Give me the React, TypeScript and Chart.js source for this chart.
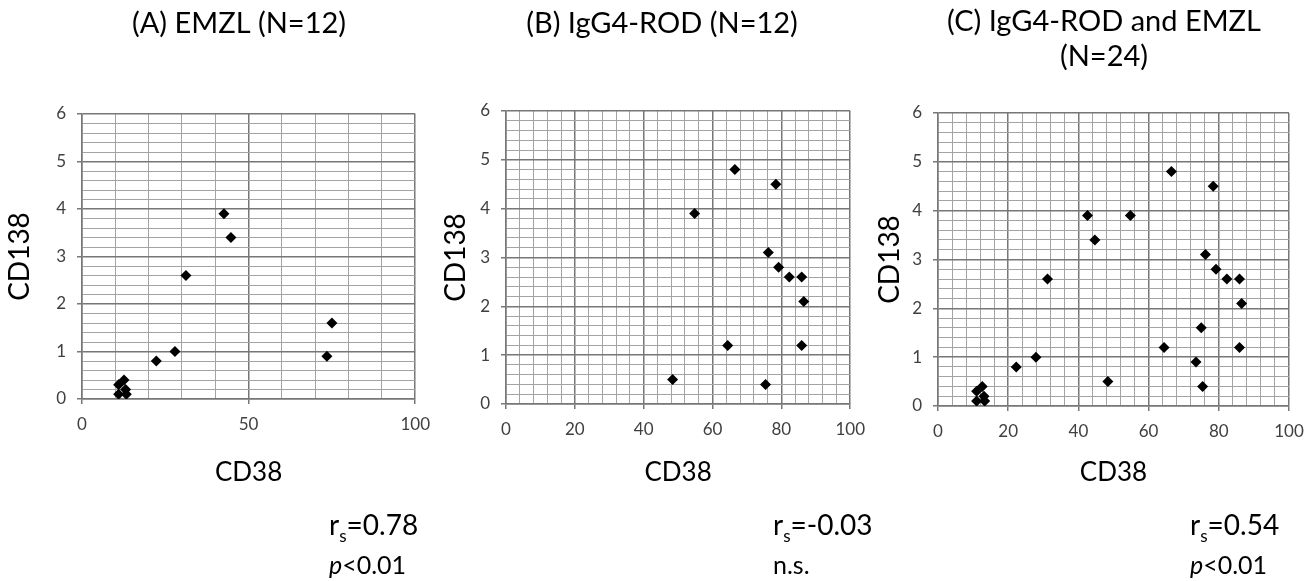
import React, { useEffect, useRef } from 'react';
import { Chart, registerables } from 'chart.js';

Chart.register(...registerables);

// ---- data ----
const emzlCD38 = [42.6, 44.7, 31.2, 27.9, 22.3, 75.0, 73.5, 11.0, 12.6, 11.0, 13.1, 13.3];
const emzlCD138 = [3.9, 3.4, 2.6, 1.0, 0.8, 1.6, 0.9, 0.3, 0.4, 0.1, 0.2, 0.1];
const igg4CD38 = [66.5, 78.4, 54.8, 76.2, 79.2, 82.3, 85.9, 86.5, 64.4, 85.9, 48.4, 75.4];
const igg4CD138 = [4.8, 4.5, 3.9, 3.1, 2.8, 2.6, 2.6, 2.1, 1.2, 1.2, 0.5, 0.4];

const panelTitles: string[][] = [
  ['(A) EMZL (N=12)'],
  ['(B) IgG4-ROD (N=12)'],
  ['(C) IgG4-ROD and EMZL', '(N=24)'],
];
const rsValues = ['=0.78', '=-0.03', '=0.54'];
const pValues = ['<0.01', 'n.s.', '<0.01'];
const xAxisTitle = 'CD38';
const yAxisTitle = 'CD138';

const toPoints = (xs: number[], ys: number[]) => xs.map((x, i) => ({ x, y: ys[i] }));

const panelData = [
  toPoints(emzlCD38, emzlCD138),
  toPoints(igg4CD38, igg4CD138),
  [...toPoints(emzlCD38, emzlCD138), ...toPoints(igg4CD38, igg4CD138)],
];

// ---- layout (not data) ----
const FONT = 'Lato, "Noto Sans", sans-serif';
const panels = [
  { left: 0, width: 440, pad: { left: 6, top: 114, right: 18, bottom: 92 }, yW: 76, xStep: 10, xMajor: 50, titleX: 239, titleY: [24], annX: 329, xTitlePad: 3 },
  { left: 440, width: 435, pad: { left: 2, top: 111, right: 21, bottom: 87 }, yW: 64, xStep: 4, xMajor: 20, titleX: 222, titleY: [24], annX: 333, xTitlePad: 8 },
  { left: 875, width: 439, pad: { left: 1, top: 113, right: 25, bottom: 85 }, yW: 62, xStep: 4, xMajor: 20, titleX: 229, titleY: [22, 57], annX: 315, xTitlePad: 10 },
];
const HEIGHT = 581;
const XH = 90;

const isMul = (v: number, m: number) => Math.abs(v / m - Math.round(v / m)) < 1e-6;

function Panel({ idx }: { idx: number }) {
  const ref = useRef<HTMLCanvasElement | null>(null);
  useEffect(() => {
    const p = panels[idx];
    const textPlugin = {
      id: 'panelText',
      afterDraw(chart: any) {
        const ctx = chart.ctx as CanvasRenderingContext2D;
        ctx.save();
        ctx.fillStyle = '#000';
        ctx.textAlign = 'center';
        ctx.textBaseline = 'middle';
        ctx.font = `29px ${FONT}`;
        panelTitles[idx].forEach((t, i) => ctx.fillText(t, p.titleX, p.titleY[i]));
        // r_s line
        ctx.textAlign = 'left';
        ctx.textBaseline = 'alphabetic';
        let x = p.annX;
        const y1 = 535;
        ctx.font = `28px ${FONT}`;
        ctx.fillText('r', x, y1);
        x += ctx.measureText('r').width;
        ctx.font = `17px ${FONT}`;
        ctx.fillText('s', x, y1 + 7);
        x += ctx.measureText('s').width;
        ctx.font = `28px ${FONT}`;
        ctx.fillText(rsValues[idx], x, y1);
        // p line
        const y2 = 574;
        x = p.annX;
        if (pValues[idx].startsWith('<')) {
          ctx.font = `italic 25px ${FONT}`;
          ctx.fillText('p', x, y2);
          x += ctx.measureText('p').width;
        }
        ctx.font = `25px ${FONT}`;
        ctx.fillText(pValues[idx], x, y2);
        ctx.restore();
      },
    };
    const gridColor = (major: boolean) => (major ? '#777777' : '#a3a3a3');
    const chart = new Chart(ref.current as HTMLCanvasElement, {
      type: 'scatter',
      data: {
        datasets: [
          {
            data: panelData[idx],
            pointStyle: 'rectRot',
            pointRadius: 5.5,
            pointHoverRadius: 5.5,
            backgroundColor: '#000',
            borderColor: '#000',
            borderWidth: 0,
          },
        ],
      },
      options: {
        animation: false,
        responsive: false,
        devicePixelRatio: 1,
        layout: { padding: p.pad },
        plugins: { legend: { display: false }, tooltip: { enabled: false }, title: { display: false } },
        scales: {
          x: {
            type: 'linear',
            min: 0,
            max: 100,
            afterFit: (s: any) => { s.height = XH; },
            ticks: {
              stepSize: p.xStep,
              autoSkip: false,
              maxRotation: 0,
              padding: 10,
              color: '#404040',
              font: { family: FONT, size: 17 },
              callback: (v: any) => (isMul(Number(v), p.xMajor) ? String(Math.round(Number(v))) : ''),
            },
            grid: {
              color: (c: any) => gridColor(isMul(c.tick?.value ?? 0, p.xMajor)),
              lineWidth: (c: any) => (isMul(c.tick?.value ?? 0, p.xMajor) ? 1.5 : 1),
              tickColor: (c: any) => (isMul(c.tick?.value ?? 0, p.xMajor) ? '#777777' : 'rgba(0,0,0,0)'),
              tickLength: 5,
            },
            border: { color: '#777777', width: 1.5 },
            title: {
              display: true,
              text: xAxisTitle,
              color: '#000',
              font: { family: FONT, size: 26, lineHeight: 1 },
              padding: { top: 0, bottom: p.xTitlePad },
            },
          },
          y: {
            type: 'linear',
            min: 0,
            max: 6,
            afterFit: (s: any) => { s.width = p.yW; },
            ticks: {
              stepSize: 0.2,
              autoSkip: false,
              padding: 11,
              color: '#404040',
              font: { family: FONT, size: 17 },
              callback: (v: any) => (isMul(Number(v), 1) ? String(Math.round(Number(v))) : ''),
            },
            grid: {
              color: (c: any) => gridColor(isMul(c.tick?.value ?? 0, 1)),
              lineWidth: (c: any) => (isMul(c.tick?.value ?? 0, 1) ? 1.5 : 1),
              tickColor: (c: any) => (isMul(c.tick?.value ?? 0, 1) ? '#777777' : 'rgba(0,0,0,0)'),
              tickLength: 5,
            },
            border: { color: '#777777', width: 1.5 },
            title: {
              display: true,
              text: yAxisTitle,
              color: '#000',
              font: { family: FONT, size: 28, lineHeight: 1 },
              padding: { top: 0, bottom: 0 },
            },
          },
        },
      },
      plugins: [textPlugin],
    } as any);
    return () => chart.destroy();
  }, [idx]);
  const p = panels[idx];
  return (
    <canvas
      ref={ref}
      width={p.width}
      height={HEIGHT}
      style={{ position: 'absolute', left: p.left, top: 0, width: p.width, height: HEIGHT }}
    />
  );
}

export default function App() {
  return (
    <div style={{ position: 'absolute', left: 0, top: 0, width: 1314, height: HEIGHT, background: '#fff' }}>
      {panels.map((_, i) => (
        <Panel key={i} idx={i} />
      ))}
    </div>
  );
}
